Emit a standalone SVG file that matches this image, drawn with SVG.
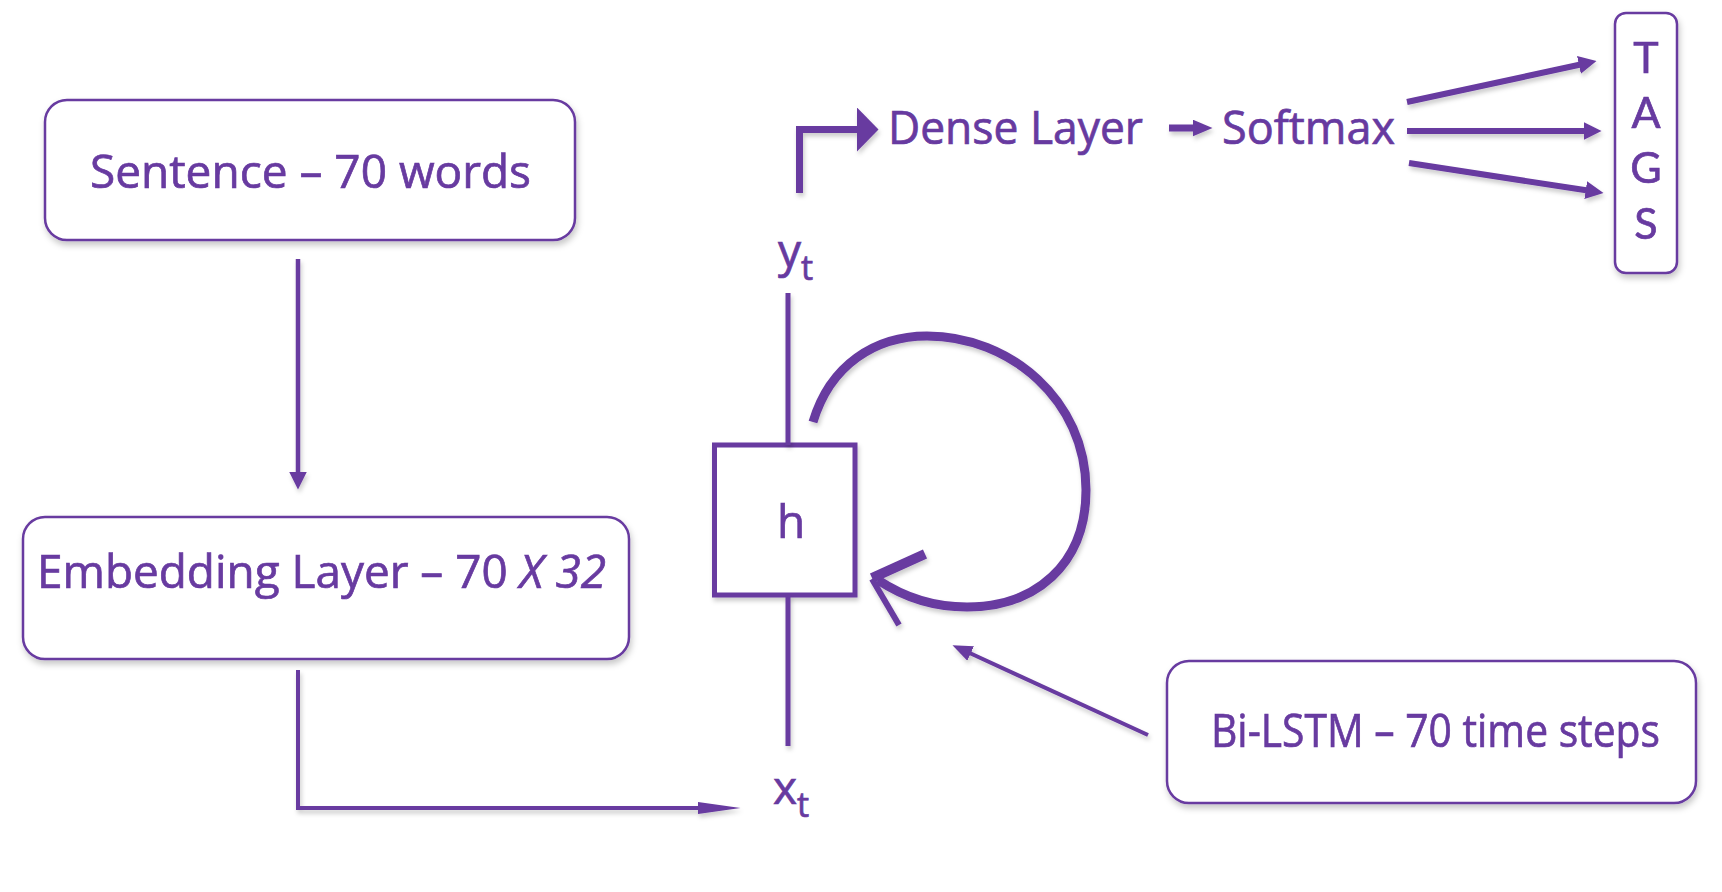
<svg xmlns="http://www.w3.org/2000/svg" width="1722" height="892" viewBox="0 0 1722 892">
<defs>
<style>
.box{fill:#fff;stroke:#673AA0;stroke-width:2.5}
.t{fill:#673AA0;stroke:#673AA0;stroke-width:0.7;font-family:"Open Sans","Noto Sans","Liberation Sans",sans-serif;font-size:46px}
.tg{fill:#673AA0;stroke:#673AA0;stroke-width:0.7;font-family:Lato,"Liberation Sans",sans-serif;font-size:43px}
.ln{fill:none;stroke:#673AA0;stroke-linecap:butt;stroke-linejoin:miter}
.hd{fill:#673AA0}
</style>
<filter id="sh" x="-20%" y="-20%" width="140%" height="140%">
<feDropShadow dx="1.5" dy="4" stdDeviation="3" flood-color="#000" flood-opacity="0.22"/>
</filter>
<filter id="shl" x="-20%" y="-20%" width="140%" height="140%">
<feDropShadow dx="1.5" dy="3.5" stdDeviation="2.2" flood-color="#000" flood-opacity="0.2"/>
</filter>
<marker id="m18" markerUnits="userSpaceOnUse" viewBox="0 0 18 18" markerWidth="18" markerHeight="18" refX="0.5" refY="9" orient="auto"><path class="hd" d="M0,0 L18,9 L0,18 z"/></marker>
<marker id="mSlim" markerUnits="userSpaceOnUse" viewBox="0 0 43 12" markerWidth="43" markerHeight="12" refX="0.5" refY="6" orient="auto"><path class="hd" d="M0,0 L43,6 L0,12 z"/></marker>
<marker id="mBig" markerUnits="userSpaceOnUse" viewBox="0 0 22 45" markerWidth="22" markerHeight="45" refX="0.5" refY="22.5" orient="auto"><path class="hd" d="M0,0 L22,22.5 L0,45 z"/></marker>
<marker id="m20" markerUnits="userSpaceOnUse" viewBox="0 0 20 17" markerWidth="20" markerHeight="17" refX="0.5" refY="8.5" orient="auto"><path class="hd" d="M0,0 L20,8.5 L0,17 z"/></marker>
<marker id="m20b" markerUnits="userSpaceOnUse" viewBox="0 0 20 16" markerWidth="20" markerHeight="16" refX="0.5" refY="8" orient="auto"><path class="hd" d="M0,0 L20,8 L0,16 z"/></marker>
</defs>
<rect width="1722" height="892" fill="#fff"/>

<g id="sentence" filter="url(#sh)">
<rect class="box" x="45" y="100" width="530" height="140" rx="22"/>
<text class="t" x="90" y="188" textLength="441" lengthAdjust="spacingAndGlyphs">Sentence – 70 words</text>
</g>

<g id="embedding" filter="url(#sh)">
<rect class="box" x="23" y="517" width="606" height="142" rx="22"/>
<text class="t" x="37" y="588" textLength="569" lengthAdjust="spacingAndGlyphs">Embedding Layer – 70 <tspan font-style="italic">X 32</tspan></text>
</g>

<g id="bilstm" filter="url(#sh)">
<rect class="box" x="1167" y="661" width="529" height="142" rx="22"/>
<text class="t" x="1211" y="747" textLength="449" lengthAdjust="spacingAndGlyphs">Bi-LSTM – 70 time steps</text>
</g>

<g id="tags" filter="url(#sh)">
<rect class="box" x="1615" y="13" width="62" height="260" rx="11"/>
<text class="tg" text-anchor="middle"><tspan x="1646" y="73">T</tspan><tspan x="1646" y="128">A</tspan><tspan x="1646" y="183">G</tspan><tspan x="1646" y="239">S</tspan></text>
</g>

<g id="dense">
<text class="t" x="888" y="144" textLength="255" lengthAdjust="spacingAndGlyphs">Dense Layer</text>
</g>

<g id="softmax">
<text class="t" x="1222" y="144" textLength="173" lengthAdjust="spacingAndGlyphs">Softmax</text>
</g>

<g id="hidden" filter="url(#shl)">
<rect x="714.5" y="445" width="140.5" height="150" fill="#fff" stroke="#673AA0" stroke-width="5"/>
<text class="t" x="791" y="538" text-anchor="middle" font-size="48">h</text>
</g>

<g id="yt">
<text class="t" x="778" y="267">y<tspan font-size="34" dy="13">t</tspan></text>
</g>

<g id="xt">
<text class="t" x="773" y="804">x<tspan font-size="34" dy="13">t</tspan></text>
</g>

<g id="connectors" filter="url(#shl)">
<line class="ln" x1="298" y1="259" x2="298" y2="472" stroke-width="4.5" marker-end="url(#m18)"/>
<path class="ln" d="M298 670 V808 H698" stroke-width="4" marker-end="url(#mSlim)"/>
<line class="ln" x1="788" y1="293" x2="788" y2="445" stroke-width="5"/>
<line class="ln" x1="788" y1="595" x2="788" y2="746" stroke-width="5"/>
<line class="ln" x1="1148" y1="735" x2="970.2" y2="653.3" stroke-width="4" marker-end="url(#m20b)"/>
<path class="ln" d="M799.5 193 V129.5 H857" stroke-width="7" marker-end="url(#mBig)"/>
<line class="ln" x1="1169" y1="128" x2="1193" y2="128" stroke-width="7" marker-end="url(#m20)"/>
<line class="ln" x1="1407" y1="102" x2="1579.4" y2="64.8" stroke-width="6" marker-end="url(#m18)"/>
<line class="ln" x1="1407" y1="131" x2="1584" y2="131" stroke-width="6" marker-end="url(#m18)"/>
<line class="ln" x1="1409" y1="163" x2="1586.2" y2="190.3" stroke-width="6" marker-end="url(#m18)"/>
<path class="ln" d="M813 422 C830 365 875 336 927 336 C1010 336 1086 400 1086 490 C1086 565 1035 607 967 607 C935 607 905 598 878 580" stroke-width="9"/>
<line class="ln" x1="872" y1="578" x2="925" y2="554" stroke-width="10"/>
<line class="ln" x1="872" y1="579" x2="899" y2="625" stroke-width="6"/>
</g>
</svg>
